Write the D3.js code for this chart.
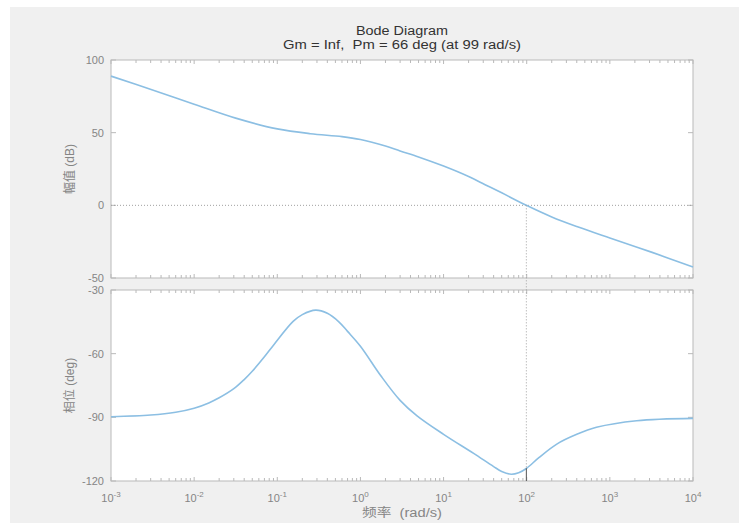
<!DOCTYPE html>
<html>
<head>
<meta charset="utf-8">
<script src="https://cdn.jsdelivr.net/npm/d3@7"></script>
<style>
  body { margin: 0; background: #ffffff; }
  svg { display: block; }
  text { font-family: "Liberation Sans", Arial, "Noto Sans CJK SC", sans-serif; white-space: pre; }
</style>
</head>
<body>
<div id="chart"></div>
<script>
const W = 739, H = 523;
const left = 111, right = 693;
const magBox = {top: 60, bottom: 278};
const phaseBox = {top: 290, bottom: 481};

// data
const magFreq = [0.001, 0.00316, 0.01, 0.0316, 0.1, 0.25, 0.6, 1, 2, 3, 5, 10, 20, 31.6, 50, 99, 200, 400, 1000, 3160, 10000];
const magDb   = [88.9, 79.4, 69.6, 60.0, 52.6, 49.3, 47.3, 45.3, 40.8, 37.4, 33.3, 27.0, 19.8, 14.2, 8.6, 0, -8.0, -14.6, -22.5, -32.2, -42.4];

const phaseFreq = [0.001, 0.003, 0.006, 0.01, 0.015, 0.02, 0.03, 0.04, 0.05, 0.07, 0.09, 0.155, 0.2, 0.29, 0.4, 0.55, 0.7, 1, 1.75, 3, 4.8, 10, 23, 40, 50, 65, 80, 99, 140, 230, 400, 690, 2100, 10000];
const phaseDeg  = [-89.7, -88.9, -87.6, -85.7, -83.2, -80.8, -76.5, -72.2, -68.3, -61.5, -56, -44.8, -41.6, -39.5, -41.0, -45, -49.5, -56.5, -70.3, -82.0, -89.3, -98.0, -107.0, -113.2, -115.5, -116.8, -116.1, -114.1, -109.0, -102.6, -98.0, -94.7, -91.6, -90.5];

const decades = [1e-3, 1e-2, 1e-1, 1e0, 1e1, 1e2, 1e3, 1e4];
const decadeExp = ["-3", "-2", "-1", "0", "1", "2", "3", "4"];
const magTicks = [100, 50, 0, -50];
const phaseTicks = [-30, -60, -90, -120];

const crossFreq = 99;    // rad/s
const phaseMargin = 66;  // deg

const titleText = "Bode Diagram";
const subTitle = "Gm = Inf,  Pm = 66 deg (at 99 rad/s)";
const magLabel = "幅值 (dB)";
const phaseLabel = "相位 (deg)";
const freqLabel = "频率  (rad/s)";

const lineColor = "#8cbfe3";
const boxColor = "#b9b9b9";
const tickText = "#858585";

var svg = d3.select("#chart").append("svg")
  .attr("width", W).attr("height", H);

svg.append("rect")
  .attr("x", 10).attr("y", 7)
  .attr("width", W - 10).attr("height", H - 7)
  .attr("fill", "#f0f0f0");

var x = d3.scaleLog().domain([1e-3, 1e4]).range([left, right]);
var yMag = d3.scaleLinear().domain([-50, 100]).range([magBox.bottom, magBox.top]);
var yPh = d3.scaleLinear().domain([-120, -30]).range([phaseBox.bottom, phaseBox.top]);

// minor ticks 2..9 per decade
let minor = [];
decades.slice(0, -1).forEach(d => { for (let k = 2; k <= 9; k++) minor.push(d * k); });

function drawPanel(box, y, ticks) {
  var g = svg.append("g");
  g.append("rect")
    .attr("x", left).attr("y", box.top)
    .attr("width", right - left).attr("height", box.bottom - box.top)
    .attr("fill", "white");

  // x ticks top and bottom, inside
  [box.top, box.bottom].forEach((yy, i) => {
    var dir = i == 0 ? 1 : -1;
    g.selectAll(null).data(decades).enter().append("line")
      .attr("x1", d => x(d)).attr("x2", d => x(d))
      .attr("y1", yy).attr("y2", yy + dir * 4)
      .attr("stroke", boxColor);
    g.selectAll(null).data(minor).enter().append("line")
      .attr("x1", d => x(d)).attr("x2", d => x(d))
      .attr("y1", yy).attr("y2", yy + dir * 3)
      .attr("stroke", boxColor);
  });

  // y ticks left and right, inside
  [left, right].forEach((xx, i) => {
    var dir = i == 0 ? 1 : -1;
    g.selectAll(null).data(ticks).enter().append("line")
      .attr("x1", xx).attr("x2", xx + dir * 5)
      .attr("y1", d => y(d)).attr("y2", d => y(d))
      .attr("stroke", boxColor);
  });

  g.selectAll(null).data(ticks).enter().append("text")
    .attr("x", left - 7)
    .attr("y", d => y(d) + 4)
    .attr("text-anchor", "end")
    .attr("font-size", "11px")
    .attr("fill", tickText)
    .text(d => d);

  g.append("rect")
    .attr("x", left).attr("y", box.top)
    .attr("width", right - left).attr("height", box.bottom - box.top)
    .attr("fill", "none")
    .attr("stroke", boxColor);
  return g;
}

var gMag = drawPanel(magBox, yMag, magTicks);
var gPh = drawPanel(phaseBox, yPh, phaseTicks);

// 0 dB dotted line
gMag.append("line")
  .attr("x1", left).attr("x2", right)
  .attr("y1", yMag(0)).attr("y2", yMag(0))
  .attr("stroke", "#a0a0a0")
  .attr("stroke-dasharray", "1,2");

// crossover markers
var phAtCross = -180 + phaseMargin;
svg.append("line")
  .attr("x1", x(crossFreq)).attr("x2", x(crossFreq))
  .attr("y1", yMag(0)).attr("y2", yPh(phAtCross))
  .attr("stroke", "#a0a0a0")
  .attr("stroke-dasharray", "1,2");
svg.append("line")
  .attr("x1", x(crossFreq)).attr("x2", x(crossFreq))
  .attr("y1", yPh(phAtCross)).attr("y2", phaseBox.bottom)
  .attr("stroke", "#555555");

// curves
var magLine = d3.line()
  .x((d, i) => x(magFreq[i]))
  .y(d => yMag(d))
  .curve(d3.curveCatmullRom.alpha(0.5));
gMag.append("path")
  .attr("d", magLine(magDb))
  .attr("fill", "none")
  .attr("stroke", lineColor)
  .attr("stroke-width", 1.6);

var phLine = d3.line()
  .x((d, i) => x(phaseFreq[i]))
  .y(d => yPh(d))
  .curve(d3.curveCatmullRom.alpha(0.5));
gPh.append("path")
  .attr("d", phLine(phaseDeg))
  .attr("fill", "none")
  .attr("stroke", lineColor)
  .attr("stroke-width", 1.6);

// x tick labels with superscripts
var xl = svg.selectAll(".xlab").data(decades).enter().append("text")
  .attr("class", "xlab")
  .attr("x", d => x(d))
  .attr("y", 502)
  .attr("text-anchor", "middle")
  .attr("font-size", "11px")
  .attr("fill", tickText);
xl.append("tspan").text("10");
xl.append("tspan")
  .attr("dy", -5)
  .attr("font-size", "8px")
  .text((d, i) => decadeExp[i]);

// titles and axis labels
svg.append("text")
  .attr("x", (left + right) / 2).attr("y", 35)
  .attr("text-anchor", "middle")
  .attr("font-size", "12px")
  .attr("textLength", 92)
  .attr("lengthAdjust", "spacingAndGlyphs")
  .attr("fill", "#333")
  .text(titleText);
svg.append("text")
  .attr("x", (left + right) / 2).attr("y", 49)
  .attr("text-anchor", "middle")
  .attr("font-size", "12px")
  .attr("textLength", 238)
  .attr("lengthAdjust", "spacingAndGlyphs")
  .attr("fill", "#333")
  .text(subTitle);

svg.append("text")
  .attr("transform", "translate(74," + ((magBox.top + magBox.bottom) / 2) + ") rotate(-90)")
  .attr("text-anchor", "middle")
  .attr("font-size", "12px")
  .attr("fill", tickText)
  .text(magLabel);
svg.append("text")
  .attr("transform", "translate(74," + ((phaseBox.top + phaseBox.bottom) / 2) + ") rotate(-90)")
  .attr("text-anchor", "middle")
  .attr("font-size", "12px")
  .attr("fill", tickText)
  .text(phaseLabel);
svg.append("text")
  .attr("x", (left + right) / 2).attr("y", 517)
  .attr("text-anchor", "middle")
  .attr("font-size", "12px")
  .attr("textLength", 80)
  .attr("lengthAdjust", "spacingAndGlyphs")
  .attr("fill", tickText)
  .text(freqLabel);
</script>
</body>
</html>
